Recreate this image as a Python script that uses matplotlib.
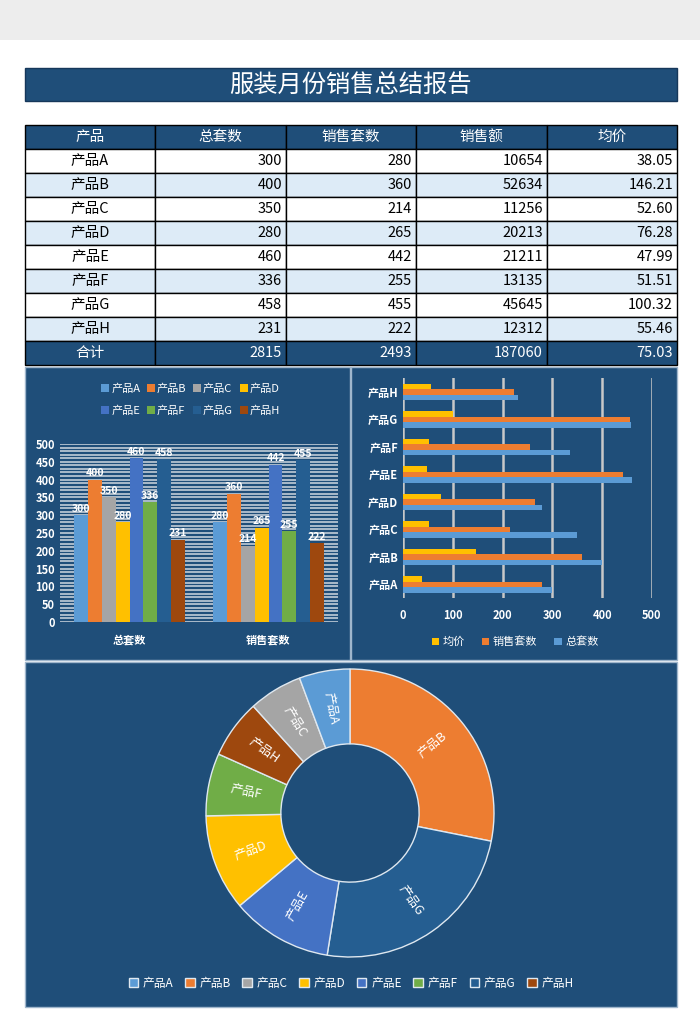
import matplotlib
matplotlib.use('Agg')
import matplotlib.pyplot as plt
import numpy as np
from matplotlib.patches import Rectangle, Patch

plt.rcParams['font.family'] = ['Noto Sans CJK SC', 'DejaVu Sans']

# data
products = ['产品A', '产品B', '产品C', '产品D', '产品E', '产品F', '产品G', '产品H']
total_sets = [300, 400, 350, 280, 460, 336, 458, 231]
sold_sets = [280, 360, 214, 265, 442, 255, 455, 222]
sales = [10654, 52634, 11256, 20213, 21211, 13135, 45645, 12312]
avg_price = [38.05, 146.21, 52.60, 76.28, 47.99, 51.51, 100.32, 55.46]
headers = ['产品', '总套数', '销售套数', '销售额', '均价']
total_row = ['合计', '2815', '2493', '187060', '75.03']
group_names = ['总套数', '销售套数']

colors = ['#5b9bd5', '#ed7d31', '#a5a5a5', '#ffc000', '#4472c4', '#70ad47', '#255e91', '#9e480e']
navy = '#1f4e79'

W, H = 700, 1030
fig = plt.figure(figsize=(W / 100, H / 100), dpi=100)


def px_axes(x0, y0, x1, y1, **kw):
    # pixel box with top-left origin -> figure axes
    return fig.add_axes([x0 / W, 1 - y1 / H, (x1 - x0) / W, (y1 - y0) / H], **kw)


bg = px_axes(0, 0, W, H)
bg.set_xlim(0, W)
bg.set_ylim(H, 0)
bg.axis('off')
bg.add_patch(Rectangle((0, 0), W, 40, color='#ededed', lw=0))

# title bar
bg.add_patch(Rectangle((25, 68), 652, 33, facecolor=navy, edgecolor='#16375a', lw=1))
bg.text(350, 85, '服装月份销售总结报告', color='white', fontsize=17.5, ha='center', va='center')

# table
col_x = [25, 155, 286, 416, 547, 677]
row_h = 24
top = 125
rows = []
for i, p in enumerate(products):
    rows.append([p, str(total_sets[i]), str(sold_sets[i]), str(sales[i]), '%.2f' % avg_price[i]])

all_rows = [headers] + rows + [total_row]
for r, vals in enumerate(all_rows):
    y0 = top + r * row_h
    if r == 0 or r == len(all_rows) - 1:
        fc, tc = navy, 'white'
    elif r % 2 == 1:
        fc, tc = 'white', 'black'
    else:
        fc, tc = '#ddebf7', 'black'
    for c in range(5):
        bg.add_patch(Rectangle((col_x[c], y0), col_x[c + 1] - col_x[c], row_h,
                               facecolor=fc, edgecolor='black', lw=1))
        if c == 0 or r == 0:
            bg.text((col_x[c] + col_x[c + 1]) / 2, y0 + row_h / 2, vals[c], color=tc,
                    fontsize=10.5, ha='center', va='center')
        else:
            bg.text(col_x[c + 1] - 4, y0 + row_h / 2, vals[c], color=tc,
                    fontsize=10.5, ha='right', va='center')

# chart panels
for (x0, y0, x1, y1) in [(25, 367, 350, 660), (351, 367, 677, 660), (25, 662, 677, 1007)]:
    bg.add_patch(Rectangle((x0, y0), x1 - x0, y1 - y0, facecolor=navy, edgecolor='#9fb6cc', lw=1))

# left: clustered columns
ax1 = px_axes(60, 444, 338, 622)
ax1.set_facecolor('none')
bw = 0.1
xg = np.arange(len(group_names))
for i, p in enumerate(products):
    vals = [total_sets[i], sold_sets[i]]
    xs = xg - 0.4 + bw / 2 + i * bw
    ax1.bar(xs, vals, width=bw, color=colors[i], label=p, zorder=3)
    for x, v in zip(xs, vals):
        ax1.text(x, v + 4, str(v), color='white', fontsize=7.5, fontweight='bold',
                 ha='center', va='bottom', zorder=4)
ax1.set_xlim(-0.5, 1.5)
ax1.set_ylim(0, 500)
ax1.set_yticks(np.arange(0, 501, 50))
ax1.set_yticks(np.arange(0, 501, 10), minor=True)
ax1.grid(axis='y', which='both', color='#d0d8e0', lw=1.1, zorder=0)
ax1.set_xticks(xg)
ax1.set_xticklabels(group_names)
ax1.tick_params(colors='white', labelsize=8, length=0, which='both')
ax1.tick_params(axis='x', pad=8)
for s in ax1.spines.values():
    s.set_visible(False)
for t in ax1.get_yticklabels() + ax1.get_xticklabels():
    t.set_fontweight('bold')
h1, l1 = ax1.get_legend_handles_labels()
lo = [0, 4, 1, 5, 2, 6, 3, 7]  # fill legend row by row
ax1.legend([h1[k] for k in lo], [l1[k] for k in lo], loc='lower center',
           bbox_to_anchor=(0.47, 1.1), ncol=4, frameon=False,
           fontsize=8, labelcolor='white', handlelength=0.7, handleheight=0.7,
           handletextpad=0.2, columnspacing=0.6, labelspacing=1.1)

# right: horizontal bars
ax2 = px_axes(403, 378, 652, 598)
ax2.set_facecolor('none')
yp = np.arange(len(products))
bh = 0.2
ax2.barh(yp - bh, total_sets, height=bh, color='#5b9bd5', label='总套数', zorder=3)
ax2.barh(yp, sold_sets, height=bh, color='#ed7d31', label='销售套数', zorder=3)
ax2.barh(yp + bh, avg_price, height=bh, color='#ffc000', label='均价', zorder=3)
ax2.set_xlim(0, 500)
ax2.set_ylim(-0.5, len(products) - 0.5)
ax2.set_xticks(np.arange(0, 501, 100))
ax2.set_yticks(yp)
ax2.set_yticklabels(products)
ax2.grid(axis='x', color='#c8c8c8', lw=1.8, zorder=0)
ax2.tick_params(colors='white', labelsize=8, length=0)
ax2.tick_params(axis='x', pad=8)
for s in ax2.spines.values():
    s.set_visible(False)
for t in ax2.get_yticklabels() + ax2.get_xticklabels():
    t.set_fontweight('bold')
h2, l2 = ax2.get_legend_handles_labels()
ax2.legend(h2[::-1], l2[::-1], loc='upper center', bbox_to_anchor=(0.45, -0.13), ncol=3,
           frameon=False, fontsize=8, labelcolor='white', handlelength=0.7,
           handleheight=0.7, handletextpad=0.3, columnspacing=1.5)

# donut of sales amount, largest first, clockwise from top
ax3 = px_axes(206, 669, 494, 957)
order = np.argsort(sales)[::-1]
vals = [sales[i] for i in order]
cols = [colors[i] for i in order]
wedges, _ = ax3.pie(vals, colors=cols, startangle=90, counterclock=False, radius=1,
                    wedgeprops=dict(width=0.52, edgecolor='#dfe8f0', linewidth=1))
for w, i in zip(wedges, order):
    ang = (w.theta1 + w.theta2) / 2
    r = 0.74
    x, y = r * np.cos(np.radians(ang)), r * np.sin(np.radians(ang))
    rot = ang % 360
    if 90 < rot < 270:
        rot -= 180
    ax3.text(x, y, products[i], color='white', fontsize=9, ha='center', va='center',
             rotation=rot, rotation_mode='anchor')
ax3.set_xlim(-1, 1)
ax3.set_ylim(-1, 1)
ax3.set_aspect('equal')

handles = [Patch(facecolor=c, edgecolor='#dfe8f0', label=p) for c, p in zip(colors, products)]
fig.legend(handles=handles, loc='center', bbox_to_anchor=(351 / W, 1 - 983 / H), ncol=8,
           frameon=False, fontsize=8.5, labelcolor='white', handlelength=0.8,
           handleheight=0.9, handletextpad=0.4, columnspacing=1.0)

fig.savefig('out.png', dpi=100)
